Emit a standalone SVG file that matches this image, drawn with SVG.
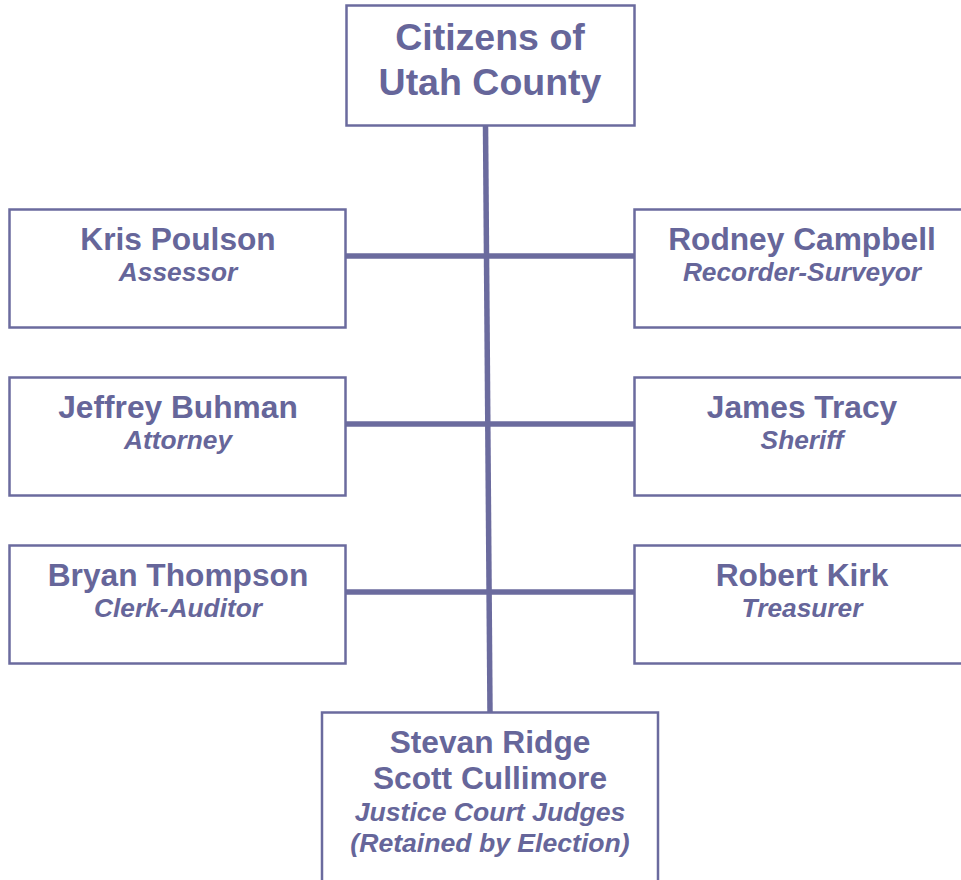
<svg xmlns="http://www.w3.org/2000/svg" width="961" height="880" viewBox="0 0 961 880">
<style>
.box{fill:#ffffff;stroke:#6b6b9e;stroke-width:2.5}
.ln{stroke:#6b6b9e;stroke-width:5.5;fill:none}
text{font-family:"Liberation Sans",Arial,sans-serif;fill:#66669a;text-anchor:middle;font-weight:bold}
.t{font-size:37.5px}
.n{font-size:31.7px}
.s{font-size:26.3px;font-style:italic}
.j{font-size:26.6px;font-style:italic}
</style>
<rect width="961" height="880" fill="#ffffff"/>
<g id="connectors">
<line class="ln" x1="485.5" y1="124" x2="490" y2="712"/>
<line class="ln" x1="346" y1="256" x2="634" y2="256"/>
<line class="ln" x1="346" y1="424" x2="634" y2="424"/>
<line class="ln" x1="346" y1="592" x2="634" y2="592"/>
</g>
<g id="citizens">
<rect class="box" x="346.5" y="5.5" width="288" height="120"/>
<text class="t" x="490" y="50">Citizens of</text>
<text class="t" x="490" y="95">Utah County</text>
</g>
<g id="poulson">
<rect class="box" x="9.5" y="209.5" width="336" height="118"/>
<text class="n" x="178" y="250">Kris Poulson</text>
<text class="s" x="178" y="281">Assessor</text>
</g>
<g id="campbell">
<rect class="box" x="634.5" y="209.5" width="336" height="118"/>
<text class="n" x="802" y="250">Rodney Campbell</text>
<text class="s" x="802" y="281">Recorder-Surveyor</text>
</g>
<g id="buhman">
<rect class="box" x="9.5" y="377.5" width="336" height="118"/>
<text class="n" x="178" y="418">Jeffrey Buhman</text>
<text class="s" x="178" y="449">Attorney</text>
</g>
<g id="tracy">
<rect class="box" x="634.5" y="377.5" width="336" height="118"/>
<text class="n" x="802" y="418">James Tracy</text>
<text class="s" x="802" y="449">Sheriff</text>
</g>
<g id="thompson">
<rect class="box" x="9.5" y="545.5" width="336" height="118"/>
<text class="n" x="178" y="586">Bryan Thompson</text>
<text class="s" x="178" y="617">Clerk-Auditor</text>
</g>
<g id="kirk">
<rect class="box" x="634.5" y="545.5" width="336" height="118"/>
<text class="n" x="802" y="586">Robert Kirk</text>
<text class="s" x="802" y="617">Treasurer</text>
</g>
<g id="judges">
<rect class="box" x="322" y="712.5" width="336" height="180"/>
<text class="n" x="490" y="753">Stevan Ridge</text>
<text class="n" x="490" y="789">Scott Cullimore</text>
<text class="j" x="490" y="821">Justice Court Judges</text>
<text class="j" x="490" y="852">(Retained by Election)</text>
</g>
</svg>
